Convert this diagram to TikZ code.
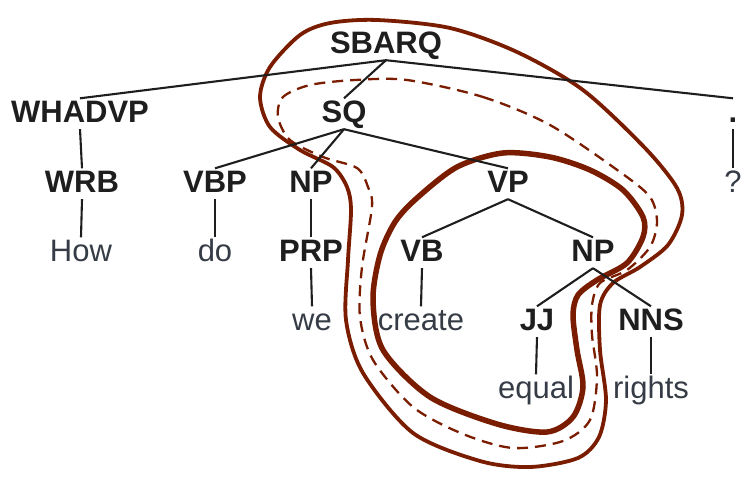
\documentclass[tikz,border=0pt]{standalone}
\usepackage{fontspec}
\setmainfont{Liberation Sans}
\usepackage{xcolor}
\usepackage{tikz}
\usetikzlibrary{positioning}
\definecolor{ringred}{HTML}{7A1C00}
\definecolor{wordgray}{HTML}{363C46}
\definecolor{tagblack}{HTML}{1E1E1E}

\begin{document}
\begin{tikzpicture}[x=1pt,y=-1pt,
  tag/.style={anchor=base,inner xsep=0pt,inner ysep=1.5pt,text height=22pt,text depth=5.5pt,text=tagblack,font=\fontsize{31}{31}\selectfont\bfseries},
  word/.style={tag,text=wordgray,font=\fontsize{31}{31}\selectfont},
  branch/.style={draw=tagblack,line width=2.1pt},
  ring/.style={draw=ringred,line width=3.8pt}]
 \useasboundingbox (0,0) rectangle (756,477);
 % rings
 \draw[ring] plot[smooth cycle] coordinates {(377,20) (450,28) (517,52) (583,90) (645,148) (677,188) (682,215) (668,245) (640,267) (613,283) (600,305) (600,350) (606,400) (599,437) (578,458) (530,467) (480,461) (413,433) (363,373) (346,320) (348,260) (351,210) (347,187) (333,167) (300,150) (270,127) (260,97) (270,67) (300,35) (330,23)};
 \draw[ring,line width=2.3pt,dash pattern=on 11pt off 7pt] plot[smooth cycle] coordinates {(407,80) (483,97) (550,125) (620,172) (650,197) (657,222) (650,247) (627,270) (600,283) (592,305) (592,335) (597,377) (590,420) (563,441) (513,448) (463,434) (413,407) (373,360) (360,317) (362,267) (372,207) (368,187) (357,168) (323,157) (290,140) (278,117) (283,97) (310,85) (355,80)};
 \draw[ring,line width=5.5pt] plot[smooth cycle] coordinates {(503,153) (550,157) (590,170) (623,190) (643,217) (643,237) (627,263) (597,280) (578,295) (573,315) (577,350) (583,387) (573,417) (547,432) (497,424) (430,397) (383,350) (373,300) (380,255) (395,222) (417,198) (457,167)};
 % tree
 \node[tag] (sbarq) at (386,53) {SBARQ};
 \node[tag] (whadvp) at (80,122) {WHADVP};
 \node[tag] (sq) at (344,122) {SQ};
 \node[tag] (dot) at (733,122) {.};
 \node[tag] (wrb) at (82,192) {WRB};
 \node[tag] (vbp) at (215,192) {VBP};
 \node[tag] (np) at (311,192) {NP};
 \node[tag] (vp) at (508,192) {VP};
 \node[word] (qm) at (733,192) {?};
 \node[word] (how) at (81,261) {How};
 \node[word] (do) at (215,261) {do};
 \node[tag] (prp) at (311,261) {PRP};
 \node[tag] (vb) at (422,261) {VB};
 \node[tag] (npb) at (593,261) {NP};
 \node[word] (we) at (312,330) {we};
 \node[word] (create) at (421,330) {create};
 \node[tag] (jj) at (537,330) {JJ};
 \node[tag] (nns) at (651,330) {NNS};
 \node[word] (equal) at (536,398) {equal};
 \node[word] (rights) at (651,398) {rights};
 \foreach \a/\b in {sbarq/whadvp,sbarq/sq,sbarq/dot,whadvp/wrb,wrb/how,sq/vbp,sq/np,sq/vp,vbp/do,np/prp,prp/we,dot/qm,vp/vb,vp/npb,vb/create,npb/jj,npb/nns,jj/equal,nns/rights}
   \draw[branch] (\a.south) -- (\b.north);
\end{tikzpicture}
\end{document}
